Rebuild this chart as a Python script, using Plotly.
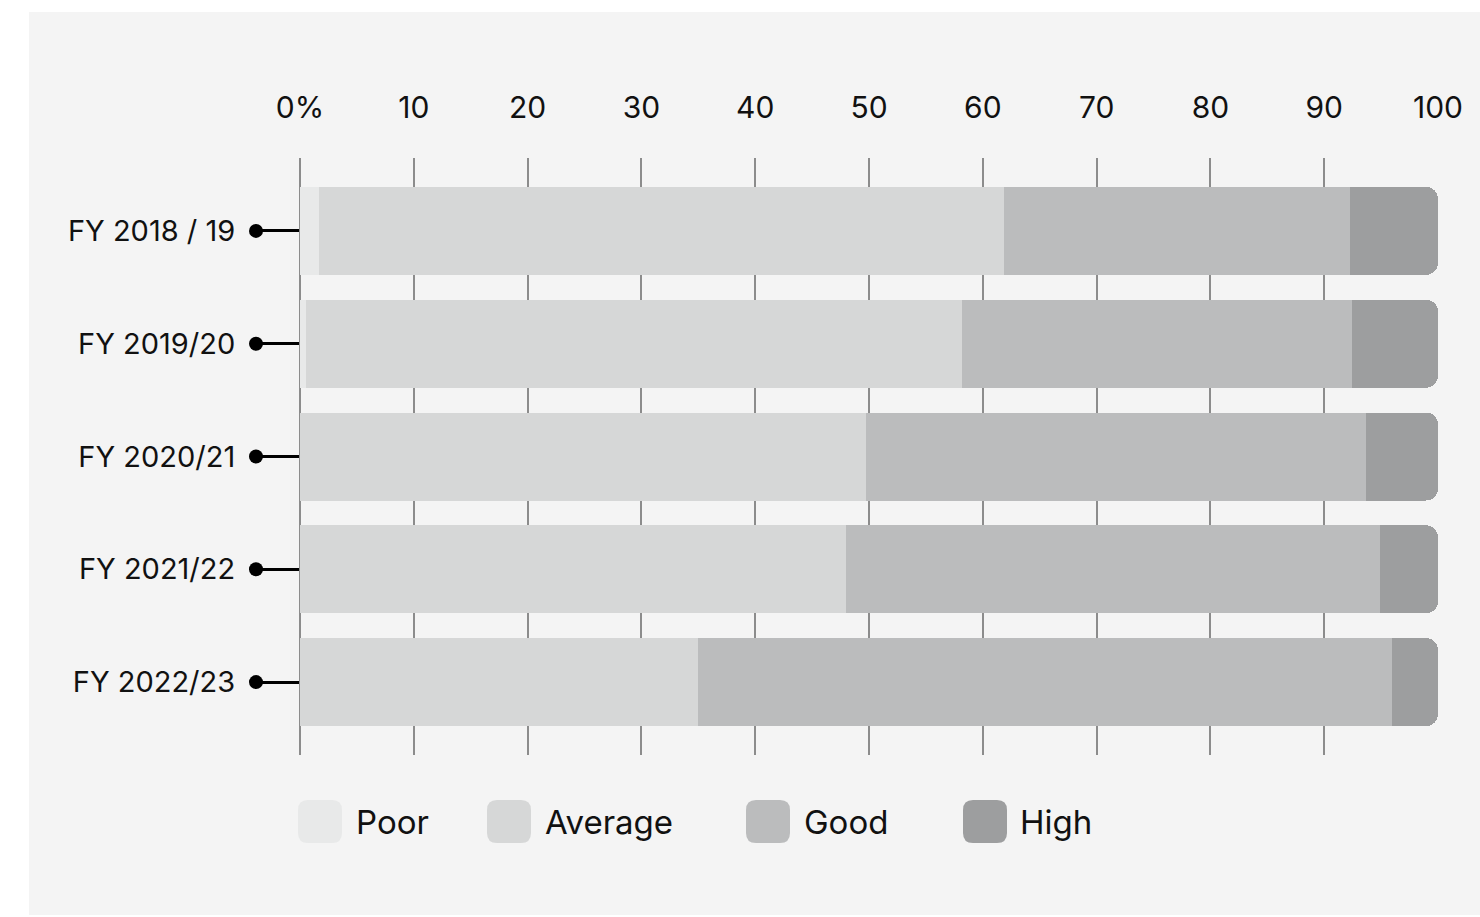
import plotly.graph_objects as go

years = ["FY 2018 / 19", "FY 2019/20", "FY 2020/21", "FY 2021/22", "FY 2022/23"]
poor = [1.7, 0.5, 0.0, 0.0, 0.0]
average = [60.2, 57.7, 49.7, 48.0, 35.0]
good = [30.4, 34.2, 44.0, 46.9, 61.0]
high = [7.7, 7.6, 6.3, 5.1, 4.0]

series = [
    ("Poor", poor, "#e8e9e9"),
    ("Average", average, "#d6d7d7"),
    ("Good", good, "#bbbcbd"),
    ("High", high, "#9d9e9f"),
]

FONT = "Inter"
W, H = 1480, 917
L, R, T, B = 300, 42, 158, 162
PW, PH = W - L - R, H - T - B


def px_x(x):
    # page pixel -> paper fraction
    return (x - L) / PW


def px_y(y):
    return (H - B - y) / PH


def rounded_rect(x0, y0, x1, y1, r):
    a, b, c, d = px_x(x0), px_x(x1), px_y(y0), px_y(y1)
    rx, ry = r / PW, r / PH
    return (
        f"M{a + rx},{c} L{b - rx},{c} Q{b},{c} {b},{c - ry} "
        f"L{b},{d + ry} Q{b},{d} {b - rx},{d} L{a + rx},{d} "
        f"Q{a},{d} {a},{d + ry} L{a},{c - ry} Q{a},{c} {a + rx},{c} Z"
    )


fig = go.Figure()
for name, vals, color in series:
    fig.add_trace(
        go.Bar(
            x=vals,
            y=years,
            name=name,
            orientation="h",
            marker=dict(color=color, line=dict(width=0)),
            hoverinfo="x+name",
        )
    )

shapes = [
    dict(
        type="rect", xref="paper", yref="paper",
        x0=px_x(29), x1=px_x(1500), y0=px_y(915), y1=px_y(12),
        fillcolor="#f4f4f4", line=dict(width=0), layer="below",
    )
]

# dots at the end of the y ticks
for yr in years:
    shapes.append(
        dict(
            type="circle", xref="paper", yref="y",
            xsizemode="pixel", ysizemode="pixel",
            xanchor=px_x(256), yanchor=yr,
            x0=-7, x1=7, y0=-7, y1=7,
            fillcolor="black", line=dict(width=0),
        )
    )

# custom legend
legend_pos = [(298, 356), (487, 545), (746, 804), (963, 1020)]
annotations = []
for (name, _, color), (sx, tx) in zip(series, legend_pos):
    shapes.append(
        dict(
            type="path", xref="paper", yref="paper",
            path=rounded_rect(sx, 800, sx + 44, 843, 10),
            fillcolor=color, line=dict(width=0),
        )
    )
    annotations.append(
        dict(
            text=name, xref="paper", yref="paper",
            x=px_x(tx - 2), y=px_y(822), xanchor="left", yanchor="middle",
            showarrow=False, font=dict(family=FONT, size=33, color="#111111"),
        )
    )

fig.update_layout(
    width=W,
    height=H,
    barmode="stack",
    bargap=0.22,
    barcornerradius=12,
    showlegend=False,
    paper_bgcolor="white",
    plot_bgcolor="rgba(0,0,0,0)",
    margin=dict(l=L, r=R, t=T, b=B),
    font=dict(family=FONT, size=29, color="#111111"),
    shapes=shapes,
    annotations=annotations,
)

fig.update_xaxes(
    side="top",
    range=[0, 100],
    tickvals=list(range(0, 101, 10)),
    ticktext=["0%"] + [str(v) for v in range(10, 101, 10)],
    tickfont=dict(size=30),
    showgrid=True,
    gridcolor="#8c8c8c",
    gridwidth=2,
    zeroline=True,
    zerolinecolor="#8c8c8c",
    zerolinewidth=2,
    ticks="outside",
    ticklen=27,
    tickcolor="rgba(0,0,0,0)",
    fixedrange=True,
)

fig.update_yaxes(
    range=[4.646, -0.646],
    showgrid=False,
    zeroline=False,
    ticks="outside",
    ticklen=44,
    tickwidth=3,
    tickcolor="black",
    ticklabelstandoff=14,
    fixedrange=True,
)

fig.write_html(
    "out.html",
    config={"displayModeBar": False},
    post_script="document.body.style.margin='0';document.body.style.overflow='hidden';",
)
